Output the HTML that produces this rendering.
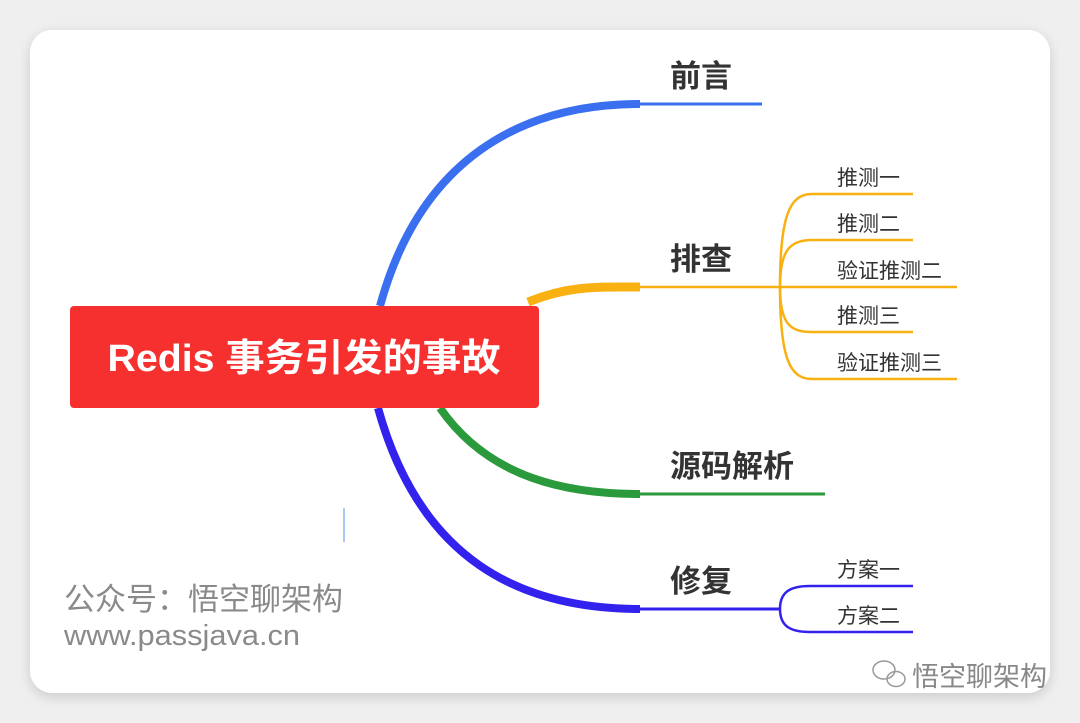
<!DOCTYPE html>
<html><head><meta charset="utf-8"><style>
html,body{margin:0;padding:0;width:1080px;height:723px;background:#efefef;overflow:hidden}
.card{position:absolute;left:30px;top:30px;width:1020px;height:663px;background:#fff;border-radius:22px;box-shadow:0 4px 12px rgba(0,0,0,.15)}
svg{position:absolute;left:0;top:0}
.t{font-family:"Liberation Sans","Noto Sans CJK SC",sans-serif}
</style></head><body>
<div class="card"></div>
<svg width="1080" height="723" viewBox="0 0 1080 723">
<g fill="none" stroke-linecap="butt">
<path d="M380 306 C420 160 520 104 640 104" stroke="#3a6ff0" stroke-width="8"/>
<path d="M640 104 H762" stroke="#3a6ff0" stroke-width="3"/>
<path d="M528 302 C570 285 600 287 640 287" stroke="#f8b110" stroke-width="9"/>
<path d="M640 287 H957" stroke="#f8b110" stroke-width="2.5"/>
<g stroke="#f8b110" stroke-width="2.5">
<path d="M780 287 C780 215 790 194 812 194 H913"/>
<path d="M780 287 C780 250 790 240 812 240 H913"/>
<path d="M780 287 C780 324 790 332 812 332 H913"/>
<path d="M780 287 C780 359 790 379 812 379 H957"/>
</g>
<path d="M440 408 C490 480 570 494 640 494" stroke="#2a9a3c" stroke-width="8"/>
<path d="M640 494 H825" stroke="#2a9a3c" stroke-width="3"/>
<path d="M378 408 C420 560 520 609 640 609" stroke="#3322ee" stroke-width="8"/>
<path d="M640 609 H780" stroke="#3322ee" stroke-width="3"/>
<g stroke="#3322ee" stroke-width="2.5">
<path d="M780 609 C780 592 790 586 810 586 H913"/>
<path d="M780 609 C780 626 790 632 810 632 H913"/>
</g>
<path d="M344 508 V542" stroke="#a9c8f5" stroke-width="2"/>
</g>
<rect x="70" y="306" width="469" height="102" rx="4" fill="#f5302e"/>
<text x="304" y="371" text-anchor="middle" class="t" font-size="38" font-weight="bold" fill="#fff" textLength="393" lengthAdjust="spacingAndGlyphs">Redis 事务引发的事故</text>
<g class="t" font-weight="bold" font-size="31" fill="#333">
<text x="670" y="87">前言</text>
<text x="670" y="270">排查</text>
<text x="670" y="477">源码解析</text>
<text x="670" y="592">修复</text>
</g>
<g class="t" font-size="21" fill="#333">
<text x="837" y="185">推测一</text>
<text x="837" y="231">推测二</text>
<text x="837" y="278">验证推测二</text>
<text x="837" y="323">推测三</text>
<text x="837" y="370">验证推测三</text>
<text x="837" y="577">方案一</text>
<text x="837" y="623">方案二</text>
</g>
<g class="t" fill="#8a8a8a">
<text x="64" y="610" font-size="31">公众号：悟空聊架构</text>
<text x="64" y="645" font-size="29" textLength="236" lengthAdjust="spacingAndGlyphs">www.passjava.cn</text>
</g>
<g fill="none" stroke="#999" stroke-width="1.5">
<ellipse cx="884" cy="670" rx="11" ry="9"/>
<ellipse cx="896" cy="679" rx="9" ry="7.5"/>
</g>
<text x="912" y="686" class="t" font-size="27" fill="#888">悟空聊架构</text>
</svg>
</body></html>
